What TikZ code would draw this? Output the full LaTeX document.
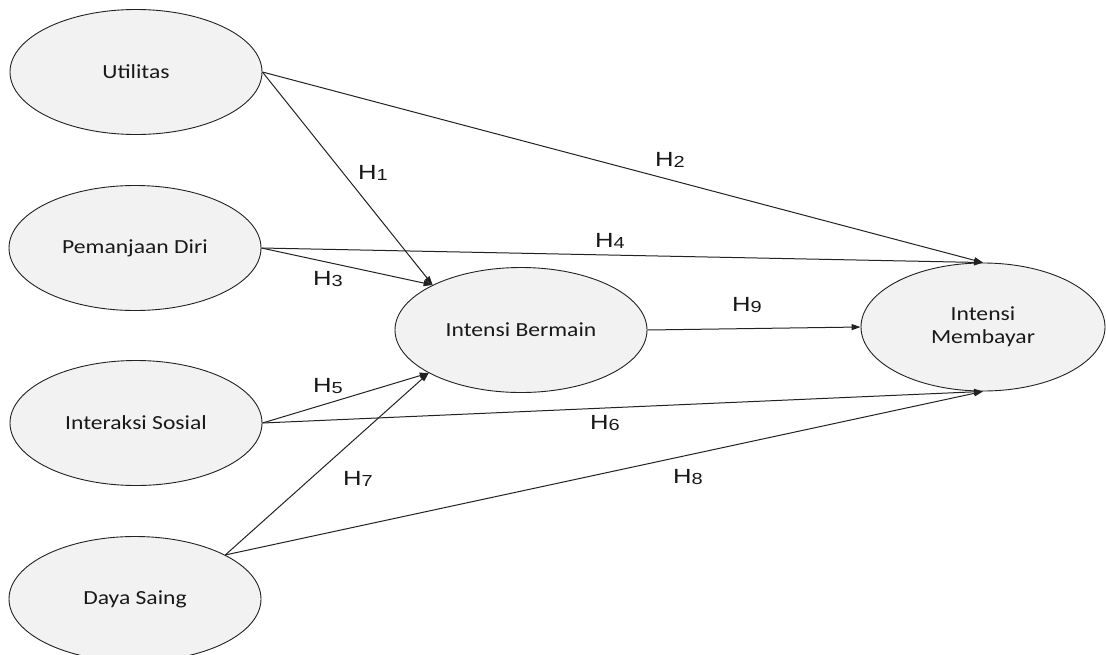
\documentclass[tikz,border=0pt]{standalone}
\usepackage{fontspec}
\usetikzlibrary{shapes.geometric,arrows.meta}
\newfontfamily\ellfont[FakeStretch=1.18]{Carlito}
\newfontfamily\labfont[FakeStretch=1.25]{Liberation Sans}
\definecolor{ellfill}{HTML}{F2F2F2}
\definecolor{linecol}{HTML}{222222}
\newcommand{\hlab}[1]{H\raisebox{-1pt}{\fontsize{16}{16}\selectfont #1}}
\tikzset{
  latent/.style={ellipse, draw=linecol, line width=0.9pt, fill=ellfill,
    minimum width=252pt, minimum height=125pt, inner sep=0pt,
    font=\ellfont\fontsize{20}{23}\selectfont, text=black!90, align=center},
  conn/.style={draw=linecol, line width=1pt, -{Triangle[length=9pt,width=6pt]}},
  hyp/.style={font=\labfont\fontsize{20.5}{21}\selectfont, text=black!90, inner sep=0pt}
}
\begin{document}
\begin{tikzpicture}[x=1pt,y=-1pt]
\useasboundingbox (0,0) rectangle (1106,654);
\node[latent] (ut) at (136,72) {Utilitas};
\node[latent] (pd) at (135,248) {Pemanjaan Diri};
\node[latent] (is) at (136,423) {Interaksi Sosial};
\node[latent] (ds) at (135,599) {Daya Saing};
\node[latent] (ib) at (521,330) {Intensi Bermain};
\node[latent, minimum width=244pt, minimum height=128pt] (im) at (983,327) {Intensi\\Membayar};

\draw[conn] (ut.east) -- (ib.153);
\draw[conn] (ut.east) -- (im.north);
\draw[conn] (pd.east) -- (ib.153);
\draw[conn] (pd.east) -- (im.north);
\draw[conn] (is.east) -- (ib.205);
\draw[conn] (is.east) -- (im.south);
\draw[conn] (ds.26) -- (ib.205);
\draw[conn] (ds.26) -- (im.south);
\draw[conn] (ib.east) -- (im.west);

\node[hyp] (h1) at (373,173) {\hlab{1}};
\node[hyp] (h2) at (670,160) {\hlab{2}};
\node[hyp] (h3) at (328,279) {\hlab{3}};
\node[hyp] (h4) at (610,241) {\hlab{4}};
\node[hyp] (h5) at (328,386) {\hlab{5}};
\node[hyp] (h6) at (605,423) {\hlab{6}};
\node[hyp] (h7) at (358,479) {\hlab{7}};
\node[hyp] (h8) at (688,477) {\hlab{8}};
\node[hyp] (h9) at (747,305) {\hlab{9}};
\end{tikzpicture}
\end{document}
